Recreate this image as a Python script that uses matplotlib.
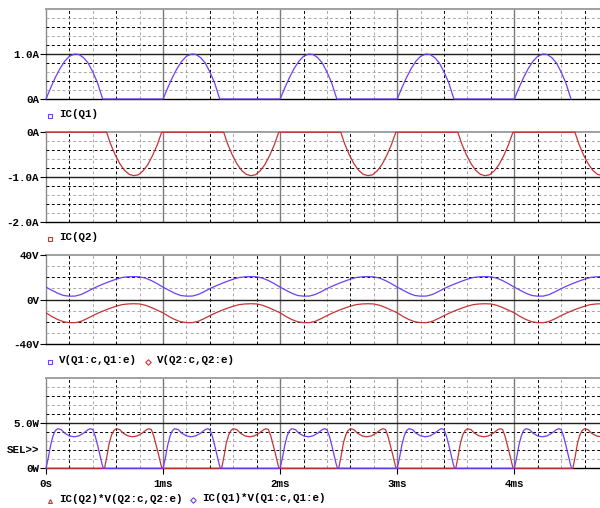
import numpy as np
import matplotlib.pyplot as plt
from matplotlib.lines import Line2D

# ---------------------------------------------------------------------------
# Trace data: one period (1 ms) of each trace.
# The waveforms repeat every period, so each one is laid out N_PERIODS times.
# ---------------------------------------------------------------------------
N_PERIODS = 5
T_END_MS = 4.732

# IC(Q1) [A]
ic_q1_t = [0.0, 0.04, 0.08, 0.12, 0.16, 0.20, 0.245, 0.28, 0.32, 0.36, 0.40, 0.44, 0.484]
ic_q1_a = [0.0, 0.25, 0.48, 0.68, 0.84, 0.95, 1.00, 0.99, 0.92, 0.80, 0.60, 0.36, 0.0]

# IC(Q2) [A]
ic_q2_t = [0.0, 0.518, 0.55, 0.59, 0.63, 0.67, 0.71, 0.75, 0.79, 0.83, 0.87, 0.91, 0.95, 0.988]
ic_q2_a = [0.0, 0.0, -0.25, -0.50, -0.70, -0.85, -0.94, -0.97, -0.95, -0.86, -0.72, -0.52, -0.28, 0.0]

# V(Q1:c,Q1:e) and V(Q2:c,Q2:e) [V]
v_t = [0.0, 0.05, 0.10, 0.15, 0.20, 0.25, 0.30, 0.35, 0.40, 0.45, 0.50,
       0.55, 0.60, 0.65, 0.70, 0.75, 0.80, 0.85, 0.90, 0.95]
v_q1 = [11.1, 8.3, 5.6, 3.6, 3.0, 3.1, 4.5, 7.0, 9.8, 12.2, 14.4,
        16.4, 18.3, 19.8, 20.4, 20.6, 20.4, 19.2, 17.0, 14.2]
v_q2 = [-12.0, -15.3, -18.0, -20.0, -20.8, -20.8, -19.6, -17.2, -14.5, -12.0, -9.8,
        -7.8, -6.0, -4.6, -4.0, -3.8, -4.0, -5.2, -7.2, -9.6]

# IC(Q1)*V(Q1:c,Q1:e) [W]
p_q1_t = [0.0, 0.02, 0.04, 0.06, 0.08, 0.10, 0.13, 0.16, 0.20, 0.24, 0.28,
          0.32, 0.36, 0.38, 0.40, 0.42, 0.44, 0.46, 0.48, 0.49]
p_q1_w = [0.0, 1.2, 2.6, 3.6, 4.2, 4.4, 4.3, 3.9, 3.6, 3.5, 3.6,
          3.9, 4.3, 4.4, 4.3, 3.6, 2.6, 1.5, 0.4, 0.0]

# IC(Q2)*V(Q2:c,Q2:e) [W]
p_q2_t = [0.0, 0.50, 0.52, 0.54, 0.56, 0.58, 0.60, 0.63, 0.66, 0.70, 0.74, 0.78,
          0.82, 0.86, 0.88, 0.90, 0.92, 0.94, 0.96, 0.98, 0.99]
p_q2_w = [0.0, 0.0, 1.3, 2.8, 3.7, 4.2, 4.4, 4.3, 3.9, 3.6, 3.5, 3.6,
          3.9, 4.3, 4.4, 4.3, 3.6, 2.6, 1.6, 0.5, 0.0]

X_TICKS = [0, 1, 2, 3, 4]
X_TICK_LABELS = ["0s", "1ms", "2ms", "3ms", "4ms"]

BLUE = "#6d3ff5"
RED = "#c43434"
FONT = dict(family="Liberation Mono", weight="bold", size=7.8)

W, H = 600, 508


def repeat(t_period, values):
    t = np.concatenate([np.asarray(t_period) + k for k in range(N_PERIODS)])
    return t, np.tile(values, N_PERIODS)


def px(x, y):
    """pixel position (from top left) -> figure fraction"""
    return x / W, 1 - y / H


def make_axes(fig, top, bottom):
    ax = fig.add_axes([46 / W, 1 - bottom / H, (W - 46) / W, (bottom - top) / H])
    for s in ax.spines.values():
        s.set_visible(False)
    ax.set_xlim(0, T_END_MS)
    return ax


def draw_grid(ax, y0, y1, n_y, mid):
    # vertical grid: dashed every 0.2 ms, solid every 1 ms
    for i, x in enumerate(np.arange(0.2, T_END_MS, 0.2), 1):
        if i % 5 == 0:
            ax.axvline(x, color="#7a7a7a", lw=1.0, zorder=1)
        else:
            c = "black" if i % 2 else "#a8a8a8"
            ax.axvline(x, color=c, lw=0.7, dashes=(3, 2.5), zorder=1)
    ax.axvline(0, color="#8a8a8a", lw=1.0, zorder=1, clip_on=False)
    # horizontal grid
    ys = np.linspace(y0, y1, n_y + 1)
    for i, y in enumerate(ys[1:-1], 1):
        if np.isclose(y, mid):
            ax.axhline(y, color="#202020", lw=1.0, zorder=1)
        else:
            c = "#a8a8a8" if i % 2 else "black"
            ax.axhline(y, color=c, lw=0.7, dashes=(3, 2.5), zorder=1)
    ax.axhline(y1, color="#a0a0a0", lw=1.4, zorder=1, clip_on=False)
    ax.axhline(y0, color="black", lw=1.0, zorder=1, clip_on=False)
    ax.set_ylim(y0, y1)


def set_yticks(ax, ticks, labels):
    ax.set_yticks(ticks)
    ax.set_yticklabels(labels, fontdict=FONT)
    ax.tick_params(axis="y", length=4, width=0.8, pad=1, color="black")


def legend_item(fig, x, y, marker, color, text):
    fig.add_artist(Line2D([px(x, y)[0]], [px(x, y)[1]], marker=marker, ms=2.8,
                          mfc="none", mec=color, mew=0.8, transform=fig.transFigure))
    fig.text(*px(x + 9, y - 2), text, ha="left", va="center", fontdict=FONT)


def main() -> None:
    fig = plt.figure(figsize=(W / 100, H / 100), dpi=100)

    # --- IC(Q1) ---
    ax1 = make_axes(fig, 9, 99)
    draw_grid(ax1, 0, 2.0, 10, 1.0)
    t, v = repeat(ic_q1_t, ic_q1_a)
    ax1.plot(t, v, color=BLUE, lw=0.9, zorder=3, clip_on=False)
    set_yticks(ax1, [0, 1.0], ["0A", "1.0A"])
    ax1.set_xticks([])

    # --- IC(Q2) ---
    ax2 = make_axes(fig, 132.3, 221.7)
    draw_grid(ax2, -2.0, 0, 10, -1.0)
    t, v = repeat(ic_q2_t, ic_q2_a)
    ax2.plot(t, v, color=RED, lw=0.9, zorder=3, clip_on=False)
    set_yticks(ax2, [-2.0, -1.0, 0], ["-2.0A", "-1.0A", "0A"])
    ax2.set_xticks([])

    # --- collector-emitter voltages ---
    ax3 = make_axes(fig, 255, 344)
    draw_grid(ax3, -40, 40, 8, 0)
    t, v = repeat(v_t, v_q1)
    ax3.plot(t, v, color=BLUE, lw=0.9, zorder=3)
    t, v = repeat(v_t, v_q2)
    ax3.plot(t, v, color=RED, lw=0.9, zorder=3)
    set_yticks(ax3, [-40, 0, 40], ["-40V", "0V", "40V"])
    ax3.set_xticks([])

    # --- dissipated power ---
    ax4 = make_axes(fig, 378.3, 468.3)
    draw_grid(ax4, 0, 10, 10, 5)
    t, v = repeat(p_q2_t, p_q2_w)
    ax4.plot(t, v, color=RED, lw=0.9, zorder=3, clip_on=False)
    t, v = repeat(p_q1_t, p_q1_w)
    ax4.plot(t, v, color=BLUE, lw=0.9, zorder=3, clip_on=False)
    set_yticks(ax4, [0, 5.0], ["0W", "5.0W"])
    ax4.text(-0.053, 2.0, "SEL>>", ha="right", va="center", fontdict=FONT)
    ax4.set_xticks(X_TICKS)
    ax4.set_xticklabels(X_TICK_LABELS, fontdict=FONT)
    ax4.tick_params(axis="x", length=4, width=0.8, pad=4, color="black")

    # --- legends under each plot ---
    legend_item(fig, 50, 116, "s", BLUE, "IC(Q1)")
    legend_item(fig, 50, 239, "s", RED, "IC(Q2)")
    legend_item(fig, 50, 362, "s", BLUE, "V(Q1:c,Q1:e)")
    legend_item(fig, 148, 362, "D", RED, "V(Q2:c,Q2:e)")
    legend_item(fig, 50, 501, "^", RED, "IC(Q2)*V(Q2:c,Q2:e)")
    legend_item(fig, 193, 500, "D", BLUE, "IC(Q1)*V(Q1:c,Q1:e)")

    fig.savefig("out.png", dpi=100)
    plt.close(fig)


if __name__ == "__main__":
    main()
